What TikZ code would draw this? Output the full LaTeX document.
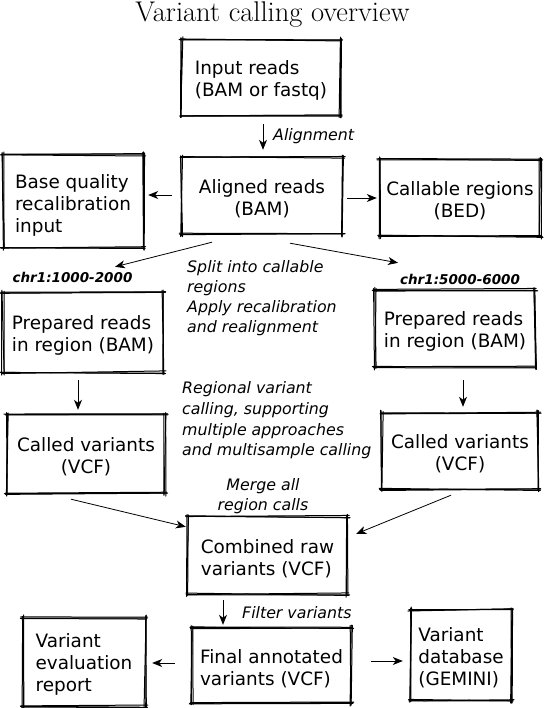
\documentclass[tikz,border=0pt]{standalone}
\usepackage{fontspec}
\newfontfamily\dv{DejaVu Sans}
\usetikzlibrary{arrows.meta}
\tikzset{
  bx/.style={rectangle, inner sep=0pt},
  bxt/.style={inner sep=0pt, font=\dv\fontsize{18.4}{22}\selectfont},
  lbl/.style={inner sep=0pt, align=left, font=\dv\itshape\fontsize{15.8}{20.2}\selectfont},
  chrlbl/.style={inner sep=0pt, font=\dv\bfseries\itshape\fontsize{13.5}{16}\selectfont},
  arr/.style={-{Stealth[length=10pt,width=8pt,inset=3pt]}, line width=0.8pt},
  skl/.style={line width=1pt, line cap=round}
}
\newcommand\skbox[1]{%
  \foreach \k in {1,2,3}{%
    \draw[skl] ([shift={(-1-2*rnd, rand*1.4)}]#1.north west) -- ([shift={(1+2*rnd, rand*1.4)}]#1.north east);
    \draw[skl] ([shift={(-1-2*rnd, rand*1.4)}]#1.south west) -- ([shift={(1+2*rnd, rand*1.4)}]#1.south east);
    \draw[skl] ([shift={(rand*1.4, -1-2*rnd)}]#1.north west) -- ([shift={(rand*1.4, 1+2*rnd)}]#1.south west);
    \draw[skl] ([shift={(rand*1.4, -1-2*rnd)}]#1.north east) -- ([shift={(rand*1.4, 1+2*rnd)}]#1.south east);
  }}
\begin{document}
\begin{tikzpicture}[x=1pt, y=-1pt]
\pgfmathsetseed{4242}
\useasboundingbox (0,0) rectangle (543,708);
\fill[white] (0,0) rectangle (543,708);

\node[anchor=base, font=\fontsize{28.5}{32}\selectfont] (title) at (272.5,22) {Variant calling overview};

\node[bx, minimum width=158, minimum height=75] (in) at (261,77.5) {};
\node[bx, minimum width=160, minimum height=76] (al) at (262,196) {};
\node[bx, minimum width=140, minimum height=92] (base) at (73,201) {};
\node[bx, minimum width=160, minimum height=76] (cal) at (460,198) {};
\node[bx, minimum width=160, minimum height=79] (pl) at (83,332.5) {};
\node[bx, minimum width=160, minimum height=77] (pr) at (455,328.5) {};
\node[bx, minimum width=158, minimum height=78] (cl) at (86,454) {};
\node[bx, minimum width=156, minimum height=76] (cr) at (460,451) {};
\node[bx, minimum width=159, minimum height=77] (cb) at (267.5,555.5) {};
\node[bx, minimum width=159, minimum height=75] (fin) at (271.5,665.5) {};
\node[bx, minimum width=122, minimum height=88] (rep) at (84,662) {};
\node[bx, minimum width=100, minimum height=90] (db) at (461,655) {};

\node[bxt, align=left] (in-t) at ([shift={(0,2.5)}]in.center) {Input reads\\(BAM or fastq)};
\node[bxt, align=center] (al-t) at ([shift={(0,3)}]al.center) {Aligned reads\\(BAM)};
\node[bxt, align=left] (base-t) at ([shift={(0,4)}]base.center) {Base quality\\recalibration\\input};
\node[bxt, align=center] (cal-t) at ([shift={(0,3)}]cal.center) {Callable regions\\(BED)};
\node[bxt, align=left] (pl-t) at ([shift={(0,3)}]pl.center) {Prepared reads\\in region (BAM)};
\node[bxt, align=left] (pr-t) at ([shift={(0,3)}]pr.center) {Prepared reads\\in region (BAM)};
\node[bxt, align=center] (cl-t) at ([shift={(0,3)}]cl.center) {Called variants\\(VCF)};
\node[bxt, align=center] (cr-t) at ([shift={(0,3)}]cr.center) {Called variants\\(VCF)};
\node[bxt, align=left] (cb-t) at ([shift={(0,3)}]cb.center) {Combined raw\\variants (VCF)};
\node[bxt, align=left] (fin-t) at ([shift={(0,3)}]fin.center) {Final annotated\\variants (VCF)};
\node[bxt, align=left] (rep-t) at ([shift={(0,2)}]rep.center) {Variant\\evaluation\\report};
\node[bxt, align=left] (db-t) at ([shift={(0,3)}]db.center) {Variant\\database\\(GEMINI)};

\foreach \n in {in,al,base,cal,pl,pr,cl,cr,cb,fin,rep,db}{\skbox{\n}}

\node[lbl, anchor=west] (lalign) at (273,136) {Alignment};
\node[lbl, anchor=west] (lsplit) at (187,298) {Split into callable\\regions\\Apply recalibration\\and realignment};
\node[lbl, anchor=west, font=\dv\itshape\fontsize{15.8}{20.7}\selectfont] (lreg) at (182,420.5) {Regional variant\\calling, supporting\\multiple approaches\\and multisample calling};
\node[lbl, anchor=center, align=center] (lmerge) at (263,496.5) {Merge all\\region calls};
\node[lbl, anchor=west] (lfilter) at (242,613) {Filter variants};
\node[chrlbl] (chrL) at (72.5,277.5) {chr1:1000-2000};
\node[chrlbl] (chrR) at (460,279.5) {chr1:5000-6000};

\draw[arr] ([shift={(2,9)}]in.south) -- ([shift={(1,-8)}]al.north);
\draw[arr] ([shift={(-10,-1)}]al.west) -- ([shift={(5,-6)}]base.east);
\draw[arr] ([shift={(5,2)}]al.east) -- ([shift={(-3,0)}]cal.west);
\draw[arr] ([shift={(-50,8)}]al.south) -- ([shift={(32,-26)}]pl.north);
\draw[arr] ([shift={(28,9)}]al.south) -- ([shift={(-57,-27)}]pr.north);
\draw[arr] ([shift={(-5,8)}]pl.south) -- ([shift={(-8,-5)}]cl.north);
\draw[arr] ([shift={(8,13)}]pr.south) -- ([shift={(3,-6)}]cr.north);
\draw[arr] ([shift={(-15,6)}]cl.south) -- ([shift={(-2,10)}]cb.north west);
\draw[arr] ([shift={(-9,6)}]cr.south) -- ([shift={(9,17)}]cb.north east);
\draw[arr] ([shift={(-44.5,6)}]cb.south) -- ([shift={(-48.5,-3)}]fin.north);
\draw[arr] ([shift={(-17,-2.5)}]fin.west) -- ([shift={(7,1)}]rep.east);
\draw[arr] ([shift={(20,-4.5)}]fin.east) -- ([shift={(-8,6)}]db.west);
\end{tikzpicture}
\end{document}
